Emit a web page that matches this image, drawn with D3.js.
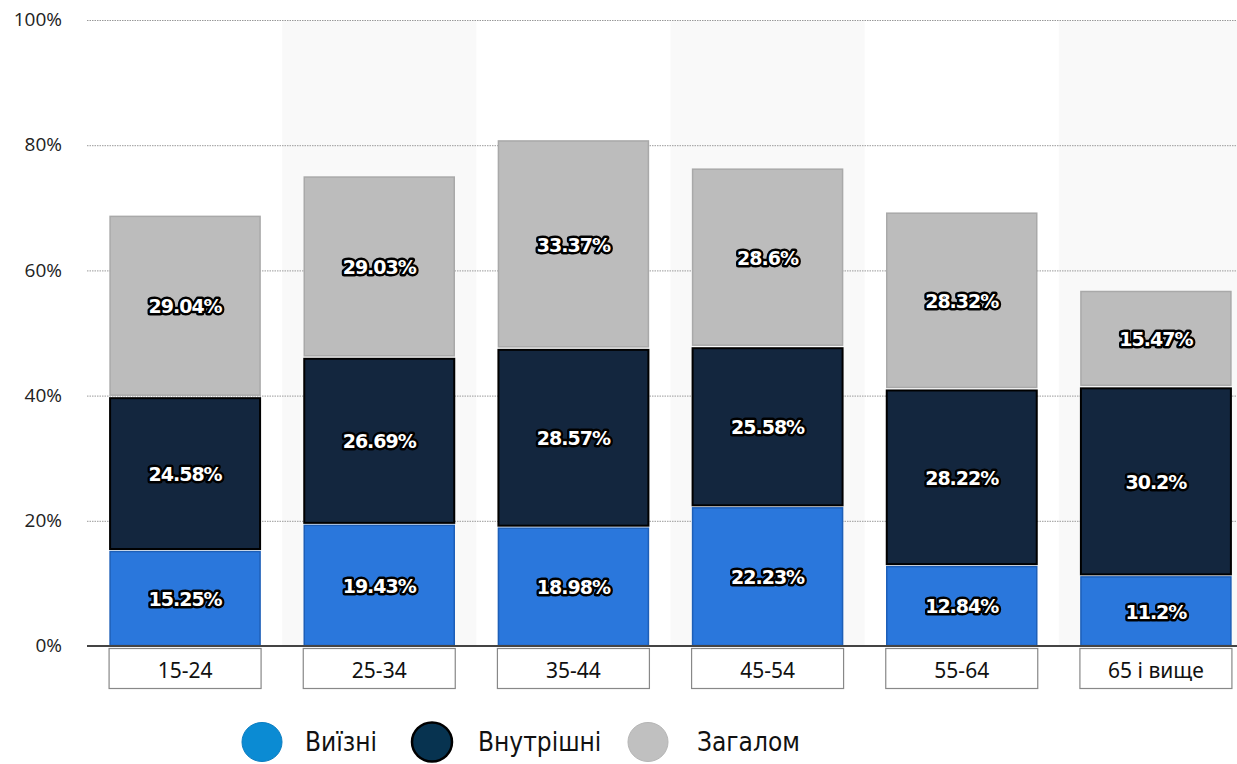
<!DOCTYPE html>
<html>
<head>
<meta charset="utf-8">
<script src="https://d3js.org/d3.v7.min.js"></script>
<style>
  body { margin: 0; background: #fff; }
  svg { display: block; }
</style>
</head>
<body>
<div id="chart"></div>
<script>
// data
var ageGroups = ["15-24", "25-34", "35-44", "45-54", "55-64", "65 і вище"];
var seriesNames = ["Виїзні", "Внутрішні", "Загалом"];
var outbound = [15.25, 19.43, 18.98, 22.23, 12.84, 11.2];
var domestic = [24.58, 26.69, 28.57, 25.58, 28.22, 30.2];
var overall = [29.04, 29.03, 33.37, 28.6, 28.32, 15.47];
var yTicks = [0, 20, 40, 60, 80, 100];

var W = 1237, H = 764;
var plotLeft = 88, plotRight = 1253, plotTop = 20, plotBottom = 646;

var svg = d3.select("#chart").append("svg")
  .attr("width", W).attr("height", H);

var defs = svg.append("defs");
var glow = defs.append("filter").attr("id", "soft").attr("x", "-20%").attr("y", "-40%").attr("width", "140%").attr("height", "180%");
glow.append("feGaussianBlur").attr("stdDeviation", 0.6);

var x = d3.scaleBand().domain(ageGroups).range([plotLeft, plotRight]).paddingInner(0).paddingOuter(0);
var y = d3.scaleLinear().domain([0, 100]).range([plotBottom, plotTop]);

var barW = 150;

// alternate band shading
svg.selectAll(".band")
  .data(ageGroups.filter(function(d, i) { return i % 2 == 1; }))
  .enter().append("rect")
  .attr("x", function(d) { return x(d); })
  .attr("y", y(100) + 1)
  .attr("width", x.bandwidth())
  .attr("height", y(0) - y(100))
  .attr("fill", "#f9f9f9");

// gridlines
svg.append("g")
  .selectAll("line")
  .data(yTicks.filter(function(d) { return d > 0; }))
  .enter().append("line")
  .attr("x1", plotLeft - 1).attr("x2", W)
  .attr("y1", function(d) { return y(d) + 0.5; })
  .attr("y2", function(d) { return y(d) + 0.5; })
  .attr("stroke", "#999")
  .attr("stroke-width", 1)
  .attr("stroke-dasharray", "1.5,1");

// y axis labels
var yAxis = d3.axisLeft(y).tickValues(yTicks).tickSize(0).tickFormat(function(d) { return d + "%"; });
var ya = svg.append("g").attr("transform", "translate(62,0)").call(yAxis);
ya.select(".domain").remove();
ya.selectAll("text")
  .attr("x", 0)
  .attr("dy", "0.3em")
  .style("font-family", "'Open Sans', sans-serif")
  .style("font-size", "19px")
  .style("fill", "#222");

// stacked data
var rows = ageGroups.map(function(g, i) {
  return { group: g, s0: outbound[i], s1: domestic[i], s2: overall[i] };
});
var stack = d3.stack().keys(["s0", "s1", "s2"])(rows);
var fills = ["#2a77dc", "#13263e", "#bcbcbc"];
var strokes = ["#1d5fb8", "#000000", "#a9a9a9"];

var layers = svg.selectAll(".layer")
  .data(stack)
  .enter().append("g")
  .attr("class", "layer");

layers.selectAll("rect")
  .data(function(d, i) { return d.map(function(p) { return { p: p, k: i }; }); })
  .enter().append("rect")
  .attr("x", function(d) { return x(d.p.data.group) + (x.bandwidth() - barW) / 2; })
  .attr("y", function(d) { return y(d.p[1]) + (d.k > 0 ? 1.5 : 1); })
  .attr("width", barW)
  .attr("height", function(d) { return Math.max(0, y(d.p[0]) - y(d.p[1]) - (d.k > 0 ? 3 : 1.5)); })
  .attr("fill", function(d) { return fills[d.k]; })
  .attr("stroke", function(d) { return strokes[d.k]; })
  .attr("stroke-width", function(d) { return d.k == 1 ? 2 : 1.5; });

// value labels: black halo, then white text on top
var labelData = function(d, i) { return d.map(function(p) { return { p: p, k: i }; }); };
["halo", "face"].forEach(function(kind) {
  layers.selectAll("text." + kind)
    .data(labelData)
    .enter().append("text")
    .attr("class", kind)
    .attr("x", function(d) { return x(d.p.data.group) + x.bandwidth() / 2; })
    .attr("y", function(d) { return (y(d.p[0]) + y(d.p[1])) / 2 + 1; })
    .attr("dy", "0.35em")
    .attr("text-anchor", "middle")
    .attr("filter", kind == "halo" ? "url(#soft)" : null)
    .style("font-family", "Verdana, 'DejaVu Sans', sans-serif")
    .style("font-weight", "bold")
    .style("font-size", "19px")
    .style("letter-spacing", "-1px")
    .style("fill", kind == "halo" ? "#000" : "#fff")
    .style("stroke", kind == "halo" ? "#000" : "none")
    .style("stroke-width", "5px")
    .style("stroke-linejoin", "round")
    .text(function(d) { return d.p.data["s" + d.k] + "%"; });
});

// x axis line
svg.append("line")
  .attr("x1", plotLeft - 1).attr("x2", W)
  .attr("y1", plotBottom).attr("y2", plotBottom)
  .attr("stroke", "#444").attr("stroke-width", 2);

// category boxes
var cats = svg.selectAll(".cat")
  .data(ageGroups)
  .enter().append("g")
  .attr("class", "cat");
cats.append("rect")
  .attr("x", function(d) { return x(d) + (x.bandwidth() - barW) / 2 - 1; })
  .attr("y", plotBottom + 2.5)
  .attr("width", barW + 2)
  .attr("height", 40)
  .attr("fill", "#fff")
  .attr("stroke", "#888")
  .attr("stroke-width", 1.2);
cats.append("text")
  .attr("x", function(d) { return x(d) + x.bandwidth() / 2; })
  .attr("y", plotBottom + 32)
  .attr("text-anchor", "middle")
  .style("font-family", "'Noto Sans', sans-serif")
  .style("font-size", "21px")
  .style("fill", "#111")
  .text(function(d) { return d; });

// legend
var legendX = [262, 432, 648];
var legendTextX = [305, 478, 697];
var legendFill = ["#0b8bd3", "#073350", "#c0c0c0"];
var legendStroke = ["#0a7cc0", "#000", "#b5b5b5"];
var lg = svg.selectAll(".lg")
  .data(seriesNames)
  .enter().append("g")
  .attr("class", "lg");
lg.append("ellipse")
  .attr("cx", function(d, i) { return legendX[i]; })
  .attr("cy", 742)
  .attr("rx", 20)
  .attr("ry", 19.5)
  .attr("fill", function(d, i) { return legendFill[i]; })
  .attr("stroke", function(d, i) { return legendStroke[i]; })
  .attr("stroke-width", function(d, i) { return i == 1 ? 2.5 : 1; });
lg.append("text")
  .attr("x", function(d, i) { return legendTextX[i]; })
  .attr("y", 751)
  .style("font-family", "'DejaVu Sans Condensed', 'Liberation Sans Narrow', 'Roboto', sans-serif")
  .style("font-stretch", "condensed")
  .style("font-size", "26px")
  .style("fill", "#111")
  .text(function(d) { return d; });
</script>
</body>
</html>
